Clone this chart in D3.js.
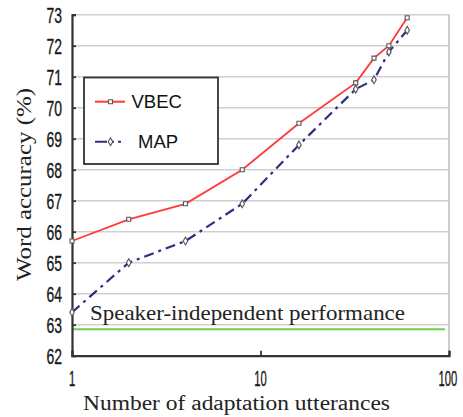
<!DOCTYPE html>
<html>
<head>
<meta charset="utf-8">
<script src="https://cdn.jsdelivr.net/npm/d3@7"></script>
<style>
  body { margin: 0; background: #fff; }
  svg { display: block; }
</style>
</head>
<body>
<div id="chart"></div>
<script>
// adaptation utterances vs word accuracy
const utterances = [1, 2, 4, 8, 16, 32, 40, 48, 60];
const vbec = [65.7, 66.4, 66.9, 68.0, 69.5, 70.8, 71.6, 72.0, 72.9];
const map = [63.4, 65.0, 65.7, 66.9, 68.8, 70.6, 70.9, 71.8, 72.5];
const speakerIndependent = 62.85;
const yTicks = [62, 63, 64, 65, 66, 67, 68, 69, 70, 71, 72, 73];
const xTicks = [1, 10, 100];
const seriesNames = ["VBEC", "MAP"];

document.addEventListener("DOMContentLoaded", () => {
  const width = 463;
  const height = 417;

  const svg = d3.select("#chart")
    .append("svg")
    .attr("width", width)
    .attr("height", height);

  const x = d3.scaleLog().domain([1, 100]).range([72, 449]);
  const y = d3.scaleLinear().domain([62, 73]).range([355.7, 14.7]);

  // grid lines
  svg.append("g")
    .selectAll("line")
    .data(yTicks.slice(1))
    .join("line")
    .attr("x1", x(1))
    .attr("x2", x(100))
    .attr("y1", d => y(d))
    .attr("y2", d => y(d))
    .attr("stroke", "#cfcfcf")
    .attr("stroke-width", 1.5);

  // right border
  svg.append("line")
    .attr("x1", x(100)).attr("x2", x(100))
    .attr("y1", y(73)).attr("y2", y(62))
    .attr("stroke", "#bdbdbd")
    .attr("stroke-width", 1.5);

  // speaker-independent baseline
  svg.append("line")
    .attr("x1", x(1) + 1)
    .attr("x2", x(100) - 4)
    .attr("y1", y(speakerIndependent))
    .attr("y2", y(speakerIndependent))
    .attr("stroke", "#6fcf4a")
    .attr("stroke-width", 2);

  svg.append("text")
    .attr("x", 90)
    .attr("y", 320)
    .attr("font-family", "Liberation Serif, serif")
    .attr("font-size", 21)
    .attr("fill", "#222")
    .attr("textLength", 315)
    .attr("lengthAdjust", "spacingAndGlyphs")
    .text("Speaker-independent performance");

  // axes
  const yAxis = svg.append("g")
    .attr("transform", `translate(${x(1)},0)`)
    .call(d3.axisLeft(y).tickValues(yTicks).tickSize(-4).tickFormat(""));
  const xAxis = svg.append("g")
    .attr("transform", `translate(0,${y(62)})`)
    .call(d3.axisBottom(x).tickValues(xTicks).tickSize(-5).tickFormat(""));
  [yAxis, xAxis].forEach(g => {
    g.select(".domain").attr("stroke", "#333").attr("stroke-width", 2.2);
    g.selectAll(".tick line").attr("stroke", "#333").attr("stroke-width", 1.8);
  });

  // condensed tick labels (squeezed horizontally)
  svg.append("g")
    .selectAll("text")
    .data(yTicks)
    .join("text")
    .attr("transform", d => `translate(62,${y(d) + 8}) scale(0.62,1)`)
    .attr("text-anchor", "end")
    .attr("font-family", "Liberation Sans, Arial, sans-serif")
    .attr("font-size", 22.5)
    .attr("fill", "#1a1a1a")
    .attr("stroke", "#1a1a1a")
    .attr("stroke-width", 0.4)
    .text(d => d);

  svg.append("g")
    .selectAll("text")
    .data(xTicks)
    .join("text")
    .attr("transform", d => `translate(${Math.min(x(d), 448)},386) scale(0.5,1)`)
    .attr("text-anchor", "middle")
    .attr("font-family", "Liberation Sans, Arial, sans-serif")
    .attr("font-size", 22.5)
    .attr("fill", "#1a1a1a")
    .attr("stroke", "#1a1a1a")
    .attr("stroke-width", 0.4)
    .text(d => d);

  // axis titles
  svg.append("text")
    .attr("x", 83)
    .attr("y", 410)
    .attr("font-family", "Liberation Serif, serif")
    .attr("font-size", 20)
    .attr("fill", "#222")
    .attr("textLength", 307)
    .attr("lengthAdjust", "spacingAndGlyphs")
    .text("Number of adaptation utterances");

  svg.append("text")
    .attr("transform", "translate(31,281) rotate(-90)")
    .attr("font-family", "Liberation Serif, serif")
    .attr("font-size", 21)
    .attr("fill", "#222")
    .attr("textLength", 193)
    .attr("lengthAdjust", "spacingAndGlyphs")
    .text("Word accuracy (%)");

  // series
  const line = d3.line()
    .x(d => x(d[0]))
    .y(d => y(d[1]));

  const vbecPts = utterances.map((u, i) => [u, vbec[i]]);
  const mapPts = utterances.map((u, i) => [u, map[i]]);

  svg.append("path")
    .datum(mapPts)
    .attr("d", line)
    .attr("fill", "none")
    .attr("stroke", "#2e2e86")
    .attr("stroke-width", 2.2)
    .attr("stroke-dasharray", "10,5,3,5");

  svg.append("path")
    .datum(vbecPts)
    .attr("d", line)
    .attr("fill", "none")
    .attr("stroke", "#ff3a3a")
    .attr("stroke-width", 1.8);

  const diamond = d3.symbol().type(d3.symbolDiamond).size(18);
  const square = d3.symbol().type(d3.symbolSquare).size(16);

  svg.append("g")
    .selectAll("path")
    .data(mapPts)
    .join("path")
    .attr("d", diamond)
    .attr("transform", d => `translate(${x(d[0])},${y(d[1])})`)
    .attr("fill", "#fff")
    .attr("stroke", "#555")
    .attr("stroke-width", 1.1);

  svg.append("g")
    .selectAll("path")
    .data(vbecPts)
    .join("path")
    .attr("d", square)
    .attr("transform", d => `translate(${x(d[0])},${y(d[1])})`)
    .attr("fill", "#fff")
    .attr("stroke", "#555")
    .attr("stroke-width", 1.1);

  // legend
  const legend = svg.append("g");
  legend.append("rect")
    .attr("x", 84).attr("y", 77.5)
    .attr("width", 134).attr("height", 86.5)
    .attr("fill", "#fff")
    .attr("stroke", "#333")
    .attr("stroke-width", 1.8);

  const legendRows = [
    { name: seriesNames[0], y: 101.7, color: "#ff3a3a", dash: null, symbol: square, tx: 131.5 },
    { name: seriesNames[1], y: 141.7, color: "#2e2e86", dash: "12,4,3,4", symbol: diamond, tx: 138 }
  ];
  legendRows.forEach(r => {
    legend.append("line")
      .attr("x1", 95).attr("x2", r.dash ? 121 : 125)
      .attr("y1", r.y).attr("y2", r.y)
      .attr("stroke", r.color)
      .attr("stroke-width", 2)
      .attr("stroke-dasharray", r.dash);
    legend.append("path")
      .attr("d", r.symbol)
      .attr("transform", `translate(110.5,${r.y})`)
      .attr("fill", "#fff")
      .attr("stroke", "#555")
      .attr("stroke-width", 1.1);
    legend.append("text")
      .attr("x", r.tx)
      .attr("y", r.y + 6.7)
      .attr("font-family", "Liberation Sans, Arial, sans-serif")
      .attr("font-size", 18.5)
      .attr("fill", "#111")
      .text(r.name);
  });
});
</script>
</body>
</html>
